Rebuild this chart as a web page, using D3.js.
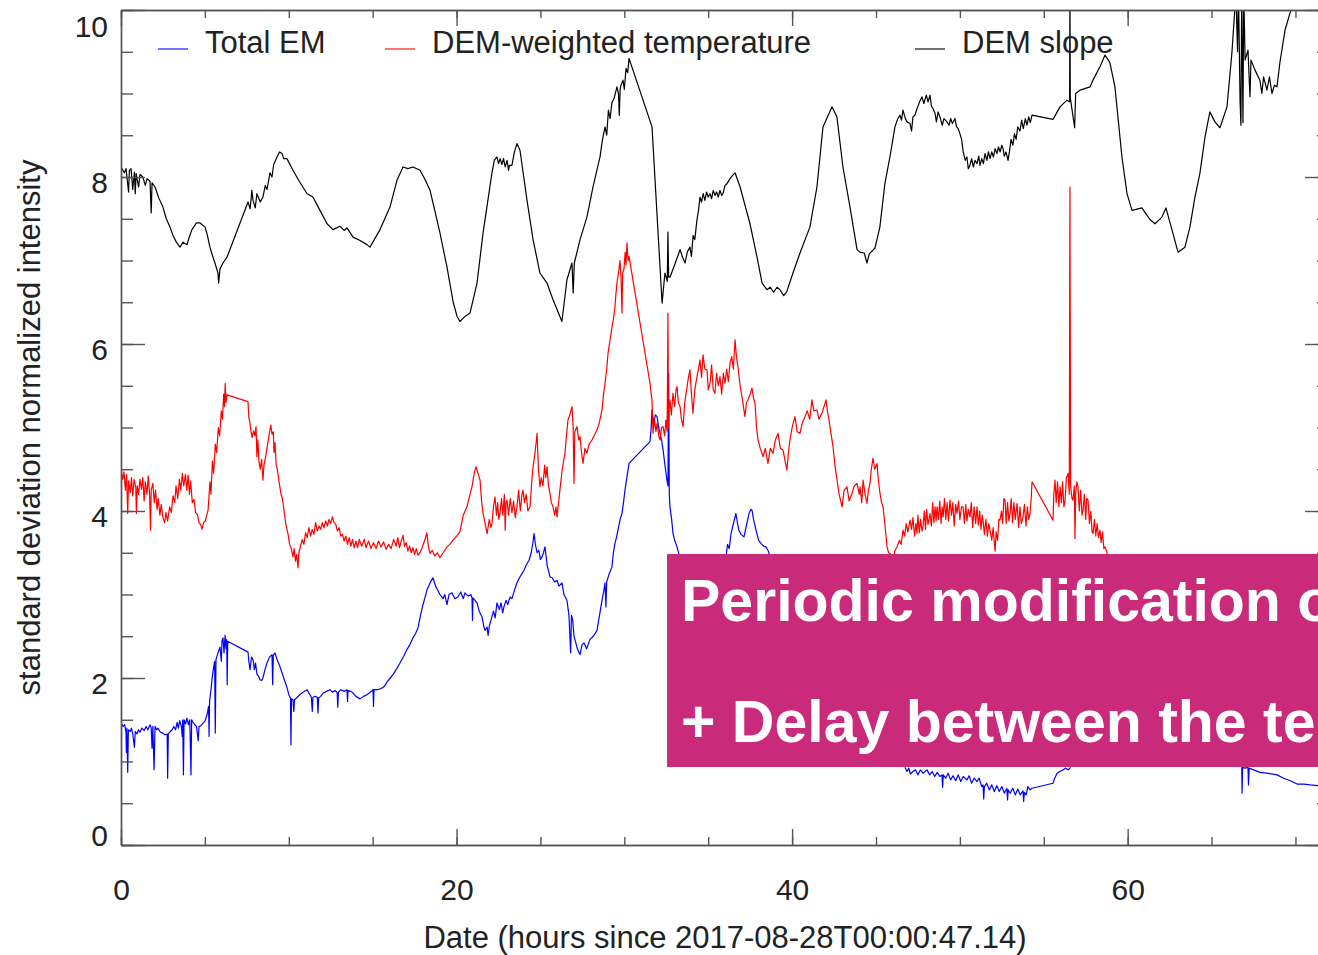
<!DOCTYPE html>
<html>
<head>
<meta charset="utf-8">
<script src="https://cdn.jsdelivr.net/npm/d3@7"></script>
<style>
body { margin: 0; background: #fff; }
svg { display: block; font-family: "Liberation Sans", Arial, Helvetica, sans-serif; }
</style>
</head>
<body>
<svg width="1318" height="955"></svg>
<script>
// [hours since 2017-08-28T00:00:47.14, normalized intensity], null = data gap

const totalEM = [
[0,1.46],[0.12,1.42],[0.22,1.44],[0.3,1.35],[0.32,1.11],[0.35,1.4],[0.4,0.87],[0.44,1.38],[0.55,1.36],[0.62,1.4],[0.7,1.33],[0.8,1.17],[0.85,1.36],[0.95,1.33],[1.05,1.38],[1.13,1.35],[1.25,1.4],[1.38,1.37],[1.5,1.42],[1.6,1.38],[1.73,1.44],[1.8,1.4],[1.85,1.16],[1.9,1.42],[1.97,0.9],[2.03,1.42],[2.12,1.38],[2.2,1.4],[2.35,1.35],[2.5,1.34],[2.62,1.32],[2.75,1.33],[2.78,0.8],[2.82,1.33],[2.95,1.36],[3.05,1.38],[3.15,1.42],[3.25,1.38],[3.35,1.47],[3.42,1.4],[3.5,1.49],[3.6,1.42],[3.65,1.3],[3.68,1.5],[3.72,0.84],[3.76,1.5],[3.85,1.45],[3.93,1.52],[4.02,1.44],[4.1,1.5],[4.17,0.84],[4.21,1.5],[4.29,1.47],[4.4,1.44],[4.5,1.42],[4.6,1.25],[4.65,1.42],[4.77,1.43],[4.89,1.46],[5.0,1.48],[5.13,1.56],[5.22,1.66],[5.25,1.3],[5.28,1.72],[5.36,1.85],[5.42,1.98],[5.5,2.1],[5.58,2.2],[5.62,1.34],[5.66,2.22],[5.78,2.3],[5.9,2.37],[5.98,2.2],[6.02,2.45],[6.08,2.48],[6.14,2.3],[6.2,2.51],[6.26,2.35],[6.3,2.46],[6.33,1.92],[6.36,2.44],
[7.57,2.31],[7.62,2.2],[7.69,2.1],[7.78,2.25],[7.87,2.22],[7.95,2.1],[8.02,2.18],[8.1,2.05],[8.2,2.02],[8.28,1.98],[8.38,1.97],[8.46,2.0],[8.58,2.1],[8.7,2.18],[8.85,2.25],[9.0,2.28],[9.04,1.92],[9.08,2.27],[9.18,2.3],[9.3,2.22],[9.45,2.15],[9.6,2.06],[9.75,1.97],[9.89,1.89],[10.0,1.8],[10.1,1.76],[10.13,1.2],[10.16,1.75],[10.25,1.74],[10.3,1.6],[10.34,1.74],[10.5,1.77],[10.65,1.8],[10.85,1.83],[11.09,1.86],[11.2,1.82],[11.35,1.77],[11.4,1.6],[11.44,1.77],[11.58,1.78],[11.7,1.77],[11.74,1.58],[11.78,1.76],[11.9,1.78],[12.05,1.82],[12.25,1.84],[12.46,1.86],[12.6,1.83],[12.75,1.85],[12.88,1.83],[12.92,1.65],[12.96,1.83],[13.1,1.86],[13.3,1.84],[13.47,1.86],[13.5,1.72],[13.53,1.85],[13.7,1.84],[13.83,1.82],[14.0,1.78],[14.25,1.75],[14.45,1.78],[14.66,1.8],[14.85,1.83],[15.02,1.86],[15.05,1.66],[15.08,1.86],[15.3,1.86],[15.56,1.88],[15.7,1.9],[15.85,1.95],[16.05,2.0],[16.21,2.04],[16.4,2.1],[16.63,2.18],[16.85,2.26],[17.04,2.34],[17.22,2.4],[17.4,2.48],[17.55,2.53],[17.7,2.6],[17.85,2.75],[18.0,2.88],[18.1,2.95],[18.23,3.05],[18.4,3.13],[18.59,3.2],[18.75,3.1],[18.88,3.05],[19.01,3.0],[19.2,2.95],[19.3,3.0],[19.43,2.88],[19.55,3.0],[19.73,3.02],[19.9,2.95],[20.08,2.97],[20.25,3.03],[20.4,2.95],[20.5,3.02],[20.7,2.98],[20.85,3.0],[20.92,2.96],[20.95,2.69],[20.98,2.96],[21.1,2.93],[21.22,2.9],[21.35,2.8],[21.52,2.73],[21.62,2.62],[21.7,2.57],[21.82,2.61],[21.88,2.51],[21.95,2.62],[22.05,2.69],[22.2,2.8],[22.3,2.72],[22.41,2.9],[22.55,2.82],[22.65,2.9],[22.75,2.78],[22.82,2.85],[22.95,2.93],[23.05,2.88],[23.19,2.97],[23.3,2.95],[23.45,3.05],[23.6,3.14],[23.75,3.2],[23.9,3.25],[24.02,3.29],[24.15,3.35],[24.32,3.41],[24.45,3.5],[24.55,3.62],[24.62,3.73],[24.7,3.6],[24.8,3.5],[24.9,3.53],[25.0,3.42],[25.09,3.45],[25.18,3.5],[25.27,3.57],[25.4,3.35],[25.57,3.21],[25.7,3.2],[25.85,3.15],[25.99,3.17],[26.1,3.1],[26.28,3.14],[26.4,3.0],[26.58,2.93],[26.7,2.75],[26.8,2.3],[26.85,2.75],[26.92,2.7],[27.0,2.5],[27.06,2.46],[27.2,2.35],[27.36,2.28],[27.48,2.4],[27.6,2.42],[27.75,2.35],[27.95,2.46],[28.15,2.5],[28.37,2.57],[28.52,2.75],[28.67,2.93],[28.78,3.05],[28.85,3.14],[28.9,2.85],[28.95,3.15],[29.1,3.25],[29.26,3.33],[29.35,3.5],[29.44,3.61],[29.55,3.7],[29.62,3.77],[29.75,3.9],[29.86,3.97],[29.95,4.1],[30.04,4.25],[30.15,4.4],[30.28,4.57],
[31.53,4.83],[31.6,5.0],[31.65,5.21],[31.75,5.05],[31.85,5.15],[31.95,5.13],[32.05,5.0],[32.13,4.93],[32.22,4.85],[32.31,4.73],[32.42,4.55],[32.54,4.37],[32.6,4.3],[32.64,5.65],[32.68,4.2],[32.72,4.05],[32.82,3.9],[32.9,3.73],[33.0,3.65],[33.14,3.57],[33.3,3.45],null,
[36.06,3.45],[36.15,3.6],[36.25,3.55],[36.36,3.73],[36.5,3.85],[36.65,3.97],[36.75,3.85],[36.83,3.77],[36.95,3.72],[37.13,3.69],[37.25,3.8],[37.43,3.97],[37.55,4.02],[37.61,4.01],[37.7,3.9],[37.85,3.77],[38.0,3.65],[38.15,3.61],[38.3,3.58],[38.44,3.57],[38.58,3.52],[38.7,3.45],null,
[46.72,0.93],[46.85,0.88],[46.95,0.92],[47.05,0.85],[47.2,0.88],[47.35,0.9],[47.5,0.84],[47.65,0.9],[47.8,0.86],[48.04,0.9],[48.2,0.84],[48.35,0.88],[48.5,0.82],[48.65,0.87],[48.8,0.82],[48.93,0.84],[48.97,0.69],[49.01,0.84],[49.15,0.8],[49.3,0.86],[49.45,0.78],[49.59,0.83],[49.75,0.77],[49.9,0.84],[50.05,0.76],[50.2,0.82],[50.42,0.78],[50.55,0.83],[50.7,0.74],[50.85,0.8],[51.02,0.76],[51.15,0.8],[51.3,0.7],[51.38,0.72],[51.42,0.55],[51.46,0.7],[51.6,0.74],[51.75,0.66],[51.9,0.72],[52.05,0.64],[52.2,0.71],[52.35,0.64],[52.5,0.7],[52.65,0.62],[52.8,0.68],[52.84,0.54],[52.88,0.66],[53.0,0.62],[53.15,0.68],[53.3,0.6],[53.45,0.67],[53.6,0.6],[53.76,0.65],[53.8,0.52],[53.84,0.63],[53.95,0.6],[54.05,0.7],[54.18,0.66],[54.3,0.68],
[55.55,0.74],[55.65,0.8],[55.79,0.86],[55.95,0.88],[56.15,0.9],[56.3,0.92],[56.45,0.9],[56.6,0.93],null,
[66.8,0.93],[66.82,0.62],[66.85,0.93],[67.0,0.92],[67.17,0.93],[67.2,0.72],[67.24,0.92],[67.5,0.9],[67.89,0.87],[68.3,0.86],[68.9,0.84],[69.3,0.8],[69.7,0.77],[70.1,0.73],[70.5,0.73],[70.9,0.72],[71.4,0.71]
];

const demTemp = [
[0,4.49],[0.1,4.38],[0.18,4.47],[0.26,4.25],[0.33,4.44],[0.4,3.97],[0.45,4.36],[0.55,4.22],[0.62,4.4],[0.7,4.18],[0.78,4.38],[0.88,4.28],[0.92,3.97],[0.97,4.3],[1.05,4.2],[1.13,4.38],[1.22,4.26],[1.3,4.4],[1.38,4.12],[1.45,4.35],[1.55,4.2],[1.62,4.42],[1.7,4.22],[1.76,3.77],[1.8,4.25],[1.9,4.33],[1.98,4.1],[2.06,4.25],[2.15,4.02],[2.22,4.15],[2.32,3.95],[2.4,4.08],[2.5,3.92],[2.6,3.86],[2.68,3.98],[2.78,3.88],[2.9,4.05],[3.0,3.98],[3.1,4.18],[3.2,4.1],[3.28,4.3],[3.38,4.15],[3.48,4.38],[3.56,4.25],[3.66,4.45],[3.74,4.3],[3.84,4.44],[3.92,4.25],[4.0,4.43],[4.08,4.2],[4.15,4.36],[4.25,4.1],[4.35,4.14],[4.45,3.98],[4.55,3.96],[4.65,3.86],[4.75,3.84],[4.83,3.78],[4.92,3.86],[5.02,3.88],[5.19,4.01],[5.3,4.35],[5.36,4.2],[5.45,4.6],[5.52,4.45],[5.62,4.8],[5.7,4.7],[5.8,5.0],[5.88,4.9],[5.98,5.2],[6.05,5.1],[6.12,5.4],[6.17,5.25],[6.21,5.53],[6.26,5.3],[6.32,5.39],
[7.57,5.31],[7.62,5.12],[7.69,5.05],[7.75,4.95],[7.82,4.88],[7.9,4.96],[7.98,4.9],[8.05,5.01],[8.1,4.65],[8.16,4.85],[8.22,4.6],[8.3,4.5],[8.38,4.62],[8.46,4.37],[8.52,4.55],[8.62,4.65],[8.7,4.75],[8.78,4.85],[8.86,4.95],[8.93,5.03],[9.0,4.92],[9.08,4.95],[9.12,4.7],[9.18,4.82],[9.25,4.55],[9.32,4.5],[9.42,4.35],[9.54,4.2],[9.62,4.15],[9.72,4.0],[9.82,3.85],[9.95,3.73],[10.05,3.6],[10.15,3.55],[10.25,3.45],[10.32,3.55],[10.4,3.4],[10.47,3.48],[10.55,3.32],[10.6,3.5],[10.7,3.58],[10.8,3.66],[10.9,3.6],[11.0,3.74],[11.1,3.68],[11.2,3.8],[11.3,3.7],[11.4,3.78],[11.5,3.72],[11.6,3.86],[11.7,3.76],[11.8,3.82],[11.9,3.78],[12.0,3.86],[12.1,3.8],[12.2,3.88],[12.3,3.82],[12.4,3.9],[12.5,3.85],[12.6,3.93],[12.7,3.86],[12.8,3.84],[12.9,3.76],[13.0,3.8],[13.1,3.7],[13.2,3.72],[13.3,3.64],[13.4,3.7],[13.5,3.6],[13.6,3.68],[13.7,3.58],[13.8,3.66],[13.9,3.56],[14.0,3.64],[14.1,3.56],[14.2,3.66],[14.35,3.58],[14.5,3.66],[14.6,3.56],[14.75,3.64],[14.9,3.55],[15.05,3.62],[15.2,3.55],[15.35,3.64],[15.5,3.57],[15.65,3.63],[15.8,3.54],[15.95,3.6],[16.1,3.55],[16.25,3.66],[16.4,3.58],[16.5,3.68],[16.6,3.56],[16.7,3.64],[16.81,3.71],[16.9,3.58],[17.0,3.62],[17.1,3.52],[17.2,3.58],[17.3,3.5],[17.4,3.56],[17.5,3.48],[17.6,3.55],[17.7,3.47],[17.82,3.5],[17.95,3.56],[18.05,3.62],[18.15,3.68],[18.23,3.74],[18.32,3.58],[18.42,3.49],[18.55,3.53],[18.7,3.46],[18.85,3.5],[19.01,3.44],[19.2,3.5],[19.43,3.57],[19.6,3.6],[19.79,3.65],[20.0,3.7],[20.2,3.75],[20.4,3.95],[20.62,4.05],[20.8,4.2],[20.92,4.29],[21.05,4.45],[21.16,4.53],[21.28,4.45],[21.4,4.37],[21.5,4.1],[21.58,3.97],[21.7,3.85],[21.82,3.73],[21.95,3.9],[22.05,3.8],[22.11,3.85],[22.2,4.05],[22.29,4.17],[22.38,3.95],[22.45,4.1],[22.52,3.9],[22.59,3.97],[22.68,4.15],[22.76,3.95],[22.85,4.2],[22.9,3.77],[22.95,4.1],[23.01,4.13],[23.1,3.95],[23.2,4.15],[23.3,3.98],[23.4,4.12],[23.5,3.92],[23.6,4.05],[23.7,4.25],[23.8,4.0],[23.9,4.2],[23.96,4.25],[24.05,4.1],[24.15,4.2],[24.25,4.0],[24.38,4.05],[24.48,4.35],[24.56,4.53],[24.68,4.7],[24.8,4.93],[24.88,4.5],[24.97,4.29],[25.05,4.4],[25.15,4.3],[25.25,4.55],[25.32,4.4],[25.39,4.53],[25.48,4.3],[25.57,4.21],[25.65,4.1],[25.75,4.05],[25.85,3.95],[25.93,4.05],[25.99,3.93],[26.08,4.1],[26.16,4.25],[26.3,4.5],[26.46,4.69],[26.55,4.9],[26.64,5.09],[26.75,5.15],[26.88,5.25],[26.95,5.0],[27.0,4.33],[27.05,4.95],[27.18,5.01],[27.28,4.85],[27.36,4.89],[27.45,4.7],[27.54,4.57],[27.65,4.75],[27.77,4.69],[27.9,4.8],[28.07,4.85],[28.2,4.9],[28.37,4.97],[28.5,5.05],[28.67,5.21],[28.76,5.4],[28.85,5.53],[28.95,5.7],[29.03,5.89],[29.15,6.05],[29.26,6.2],[29.35,6.3],[29.44,6.44],[29.5,6.6],[29.56,6.73],[29.65,6.85],[29.74,7.0],[29.8,6.8],[29.86,6.37],[29.9,6.85],[29.98,6.9],[30.05,7.1],[30.1,6.95],[30.16,7.21],[30.22,7.0],[30.28,7.05],
[31.53,5.53],[31.6,5.4],[31.65,5.33],[31.71,4.93],[31.8,5.1],[31.88,4.95],[31.95,5.05],[32.05,4.9],[32.13,4.85],[32.22,5.0],[32.31,5.01],[32.4,4.9],[32.48,5.09],[32.55,4.95],[32.6,6.37],[32.63,5.0],[32.66,5.2],[32.72,5.33],[32.8,5.15],[32.9,5.41],[33.0,5.25],[33.08,5.45],[33.14,5.49],[33.22,5.3],[33.32,5.25],[33.4,5.1],[33.5,5.01],[33.6,5.3],[33.74,5.49],[33.82,5.6],[33.91,5.69],[34.0,5.4],[34.09,5.17],[34.2,5.45],[34.33,5.61],[34.42,5.7],[34.51,5.81],[34.6,5.6],[34.69,5.87],[34.8,5.7],[34.93,5.69],[35.0,5.45],[35.11,5.53],[35.2,5.75],[35.3,5.45],[35.4,5.41],[35.5,5.65],[35.6,5.5],[35.7,5.61],[35.8,5.4],[35.9,5.65],[36.0,5.53],[36.1,5.7],[36.2,5.55],[36.3,5.77],[36.4,5.85],[36.5,5.7],[36.6,6.05],[36.68,5.85],[36.77,5.73],[36.9,5.5],[37.01,5.37],[37.1,5.25],[37.19,5.13],[37.28,5.3],[37.37,5.33],[37.5,5.4],[37.61,5.47],[37.7,5.35],[37.79,5.29],[37.88,5.0],[37.97,4.85],[38.1,4.75],[38.27,4.65],[38.4,4.75],[38.56,4.57],[38.7,4.75],[38.86,4.69],[39.0,4.85],[39.16,4.93],[39.3,4.75],[39.46,4.73],[39.58,4.6],[39.69,4.49],[39.78,4.7],[39.87,4.85],[40.0,5.0],[40.17,5.13],[40.3,4.95],[40.47,4.93],[40.6,5.05],[40.77,5.13],[40.9,5.2],[41.05,5.1],[41.18,5.33],[41.3,5.2],[41.48,5.21],[41.6,5.1],[41.78,5.17],[41.9,5.25],[42.02,5.33],[42.1,5.2],[42.2,5.09],[42.3,4.95],[42.44,4.77],[42.55,4.55],[42.68,4.37],[42.8,4.2],[42.98,4.05],[43.1,4.25],[43.27,4.29],[43.4,4.12],[43.57,4.21],[43.7,4.3],[43.87,4.33],[44.0,4.2],[44.05,4.29],[44.15,4.1],[44.23,4.37],[44.35,4.2],[44.46,4.09],[44.55,4.25],[44.64,4.33],[44.72,4.5],[44.82,4.63],[44.92,4.5],[45.06,4.57],[45.15,4.35],[45.24,4.21],[45.33,4.1],[45.42,4.05],[45.55,3.8],[45.66,3.57],[45.75,3.5],[45.84,3.49],[45.93,3.45],[46.02,3.42],[46.12,3.52],[46.25,3.57],[46.4,3.65],[46.5,3.6],[46.61,3.77],
[46.7,3.7],[46.8,3.85],[46.9,3.75],[47.03,3.89],[47.12,3.78],[47.2,3.92],[47.3,3.7],[47.38,3.85],[47.44,3.73],[47.5,3.95],[47.58,3.74],[47.66,3.9],[47.74,3.76],[47.8,3.81],[47.88,4.0],[47.95,3.78],[48.02,4.02],[48.1,3.84],[48.22,3.97],[48.3,3.82],[48.38,4.1],[48.45,3.86],[48.52,4.05],[48.58,3.88],[48.64,4.05],[48.72,3.9],[48.8,4.12],[48.88,3.85],[48.94,4.05],[49.0,3.93],[49.08,4.15],[49.16,3.9],[49.24,4.1],[49.32,3.88],[49.41,4.13],[49.5,3.95],[49.58,4.1],[49.66,3.82],[49.75,4.08],[49.83,3.97],[49.92,4.12],[50.0,3.9],[50.1,4.05],[50.19,4.05],[50.27,3.85],[50.35,4.08],[50.42,3.88],[50.5,4.02],[50.6,3.93],[50.68,4.1],[50.76,3.8],[50.85,4.05],[50.94,3.85],[51.02,4.05],[51.1,3.83],[51.18,4.0],[51.26,3.78],[51.33,3.95],[51.38,3.89],[51.46,3.72],[51.55,3.9],[51.64,3.7],[51.72,3.85],[51.8,3.77],[51.9,3.65],[51.98,3.8],[52.05,3.62],[52.1,3.52],[52.16,3.75],[52.25,3.65],[52.32,3.9],[52.39,3.89],[52.48,4.0],[52.55,3.85],[52.62,4.15],[52.69,4.13],[52.76,3.85],[52.84,4.1],[52.92,3.88],[52.99,3.97],[53.06,4.15],[53.14,3.86],[53.22,4.1],[53.3,3.9],[53.41,4.09],[53.5,3.8],[53.58,4.05],[53.66,3.85],[53.76,3.93],[53.85,4.08],[53.94,3.82],[54.02,4.05],[54.1,3.9],[54.18,3.97],[54.25,4.15],[54.3,4.35],
[55.55,3.89],[55.6,4.2],[55.67,4.37],[55.74,4.1],[55.82,4.35],[55.9,4.05],[55.97,4.29],[56.05,4.1],[56.12,4.35],[56.2,4.05],[56.27,4.13],[56.35,4.4],[56.45,4.45],[56.52,4.2],[56.56,7.88],[56.6,4.3],[56.68,4.15],[56.74,4.13],[56.82,4.3],[56.86,3.67],[56.9,4.2],[56.97,4.35],[57.04,4.29],[57.12,4.0],[57.2,4.25],[57.28,3.95],[57.34,4.01],[57.42,4.2],[57.5,3.9],[57.56,4.15],[57.64,4.13],[57.72,3.85],[57.8,4.0],[57.88,3.75],[57.94,3.73],[58.02,3.9],[58.1,3.7],[58.18,3.85],[58.26,3.68],[58.35,3.77],[58.42,3.62],[58.5,3.75],[58.58,3.55],[58.65,3.57],[58.74,3.52],[58.83,3.45]
];

const demSlope = [
[0,8.12],[0.2,8.05],[0.3,8.1],[0.45,7.82],[0.5,8.08],[0.6,8.1],[0.7,7.85],[0.8,8.06],[0.85,7.8],[0.9,8.04],[1.05,7.88],[1.13,8.03],[1.3,8.0],[1.45,7.9],[1.55,7.98],[1.73,7.95],[1.8,7.57],[1.85,7.93],[2.03,7.88],[2.25,7.75],[2.5,7.64],[2.7,7.5],[2.92,7.4],[3.1,7.3],[3.3,7.22],[3.52,7.16],[3.7,7.22],[3.93,7.19],[4.1,7.3],[4.23,7.37],[4.5,7.45],[4.71,7.45],[5.01,7.4],[5.15,7.3],[5.3,7.16],[5.45,7.06],[5.6,6.97],[5.78,6.85],[5.82,6.73],[5.9,6.9],[6.08,6.97],[6.32,7.04],
[7.57,7.7],[7.7,7.62],[7.8,7.84],[7.87,7.72],[8.0,7.63],[8.1,7.8],[8.3,7.7],[8.46,7.76],[8.6,7.9],[8.7,7.85],[8.88,8.05],[9.0,8.0],[9.1,8.15],[9.3,8.24],[9.45,8.3],[9.6,8.28],[9.7,8.22],[9.89,8.22],[10.25,8.08],[10.65,7.94],[11.09,7.8],[11.44,7.76],[11.86,7.6],[12.28,7.44],[12.64,7.37],[13.05,7.41],[13.3,7.36],[13.47,7.39],[13.83,7.28],[14.25,7.24],[14.66,7.19],[14.84,7.16],[15.44,7.37],[16.03,7.64],[16.45,7.96],[16.81,8.12],[17.1,8.1],[17.4,8.12],[17.82,8.08],[18.1,7.98],[18.42,7.84],[18.7,7.6],[19.01,7.33],[19.43,6.92],[19.8,6.5],[20.03,6.33],[20.2,6.27],[20.5,6.33],[20.8,6.37],[21.22,6.73],[21.58,7.33],[22.11,8.05],[22.25,8.2],[22.41,8.24],[22.5,8.16],[22.6,8.22],[22.7,8.15],[22.8,8.22],[22.9,8.12],[23.01,8.2],[23.1,8.08],[23.15,8.14],[23.3,8.14],[23.45,8.3],[23.6,8.4],[23.78,8.32],[24.2,7.72],[24.56,7.25],[24.97,6.85],[25.39,6.73],[25.75,6.53],[26.16,6.33],[26.28,6.27],[26.58,6.77],[26.88,6.97],[26.95,6.61],[27.02,6.97],[27.36,7.25],[27.77,7.52],[28.13,7.88],[28.55,8.24],[28.7,8.45],[28.85,8.6],[28.95,8.5],[29.05,8.8],[29.15,8.7],[29.26,8.89],[29.4,8.95],[29.56,9.08],[29.65,9.0],[29.7,8.74],[29.75,9.05],[29.8,9.1],[29.92,9.16],[30.0,9.05],[30.1,9.3],[30.2,9.25],[30.28,9.42],
[31.65,8.6],[32.25,6.49],[32.42,6.85],[32.56,6.75],[32.6,7.34],[32.64,6.8],[32.72,6.8],[33.0,6.95],[33.32,7.13],[33.45,7.05],[33.62,6.97],[33.75,7.1],[33.91,7.16],[34.0,7.05],[34.1,7.3],[34.2,7.25],[34.33,7.49],[34.42,7.6],[34.51,7.76],[34.6,7.7],[34.7,7.8],[34.8,7.72],[34.9,7.82],[35.0,7.76],[35.11,7.8],[35.2,7.74],[35.3,7.84],[35.4,7.78],[35.5,7.82],[35.6,7.76],[35.7,7.84],[35.8,7.78],[35.88,7.8],[36.0,7.9],[36.12,7.92],[36.3,7.98],[36.45,8.02],[36.6,8.05],[36.9,7.88],[37.49,7.44],[37.91,7.04],[38.21,6.73],[38.5,6.65],[38.7,6.68],[38.9,6.62],[39.1,6.68],[39.28,6.65],[39.5,6.58],[39.69,6.63],[40.05,6.85],[40.47,7.09],[41.06,7.4],[41.48,7.88],[41.84,8.6],[42.38,8.84],[42.67,8.72],[43.03,8.12],[43.45,7.64],[43.87,7.13],[44.04,7.1],[44.3,7.09],[44.46,6.97],[44.6,7.08],[44.94,7.15],[45.23,7.4],[45.53,7.92],[45.83,8.24],[46.13,8.6],
[46.3,8.7],[46.43,8.74],[46.52,8.68],[46.61,8.8],[46.75,8.7],[46.85,8.66],[47.03,8.64],[47.12,8.55],[47.2,8.72],[47.32,8.74],[47.45,8.82],[47.6,8.9],[47.74,8.96],[47.85,8.88],[48.0,8.98],[48.1,8.9],[48.22,8.98],[48.3,8.85],[48.4,8.82],[48.52,8.76],[48.6,8.66],[48.7,8.78],[48.81,8.72],[48.95,8.62],[49.05,8.7],[49.23,8.66],[49.35,8.62],[49.45,8.7],[49.55,8.64],[49.71,8.7],[49.8,8.6],[49.9,8.58],[50.0,8.52],[50.1,8.45],[50.2,8.3],[50.32,8.2],[50.42,8.24],[50.5,8.1],[50.6,8.14],[50.7,8.22],[50.8,8.12],[50.9,8.2],[51.02,8.16],[51.12,8.25],[51.2,8.14],[51.3,8.22],[51.4,8.16],[51.5,8.28],[51.61,8.2],[51.7,8.3],[51.8,8.22],[51.9,8.3],[52.0,8.24],[52.1,8.34],[52.21,8.28],[52.3,8.36],[52.4,8.3],[52.5,8.38],[52.57,8.34],[52.65,8.25],[52.75,8.3],[52.87,8.2],[52.95,8.3],[53.05,8.45],[53.16,8.38],[53.25,8.52],[53.35,8.45],[53.45,8.6],[53.58,8.55],[53.68,8.68],[53.78,8.58],[53.9,8.7],[54.0,8.62],[54.1,8.72],[54.2,8.65],[54.3,8.74],
[55.55,8.69],[55.97,8.84],[56.38,8.92],[56.54,8.9],[56.56,10.3],[56.58,8.95],[56.84,8.59],[56.9,9.0],[57.16,9.04],[57.76,9.08],[57.93,9.16],[58.35,9.32],[58.65,9.46],[58.94,9.37],[59.24,9.08],[59.42,8.72],[59.66,8.24],[59.96,7.8],[60.26,7.6],[60.85,7.63],[61.33,7.49],[61.63,7.44],[62.04,7.52],[62.28,7.63],[62.64,7.37],[63.0,7.1],[63.41,7.16],[63.71,7.4],[64.01,7.76],[64.31,8.05],[64.61,8.48],[64.9,8.78],[65.2,8.66],[65.5,8.59],[65.92,8.84],[66.21,9.48],[66.45,10.2],[66.55,9.5],[66.6,10.3],[66.7,8.9],[66.75,8.62],[66.8,10.3],[66.87,8.65],[66.92,10.2],[67.0,9.4],[67.17,9.52],[67.29,8.96],[67.35,9.4],[67.59,9.28],[67.88,9.16],[68.0,9.0],[68.1,9.2],[68.3,9.04],[68.45,9.2],[68.6,9.0],[68.75,9.1],[68.9,9.08],[69.08,9.38],[69.38,9.76],[69.67,9.96],[70.27,10.3],[71.4,10.5]
];

const xMajor = [0, 20, 40, 60];
const xMinor = d3.range(0, 73, 5);
const yMajor = [0, 2, 4, 6, 8, 10];
const yMinor = d3.range(0, 10.01, 0.5);

const series = [
    {name: 'Total EM', data: totalEM, color: '#0000ff'},
    {name: 'DEM-weighted temperature', data: demTemp, color: '#ff0000'},
    {name: 'DEM slope', data: demSlope, color: '#000000'}
];

const noteLines = ['Periodic modification of', '+ Delay between the temperature'];

const svg = d3.select("svg");

const x = d3.scaleLinear().domain([0, 72]).range([121, 1329]);
const y = d3.scaleLinear().domain([0, 10]).range([845, 10]);

svg.append('clipPath').attr('id', 'plot')
    .append('rect')
    .attr('x', x(0)).attr('y', y(10))
    .attr('width', x(72) - x(0)).attr('height', y(0) - y(10));

const line = d3.line()
    .defined(d => d !== null)
    .x(d => x(d[0]))
    .y(d => y(d[1]));

svg.append('g').attr('clip-path', 'url(#plot)')
    .selectAll('path')
    .data(series)
    .enter().append('path')
    .attr('fill', 'none')
    .attr('stroke', d => d.color)
    .attr('stroke-width', 1.2)
    .attr('stroke-linejoin', 'round')
    .attr('d', d => line(d.data));

// axes on all four sides, ticks pointing inward
function styleAxis(g){
    g.attr('font-family', null).attr('font-size', null);
    g.selectAll('path, line').attr('stroke', '#555').attr('stroke-width', 1.4);
    g.selectAll('text').attr('fill', '#222').attr('font-size', 30);
}

svg.append('g').attr('transform', `translate(0,${y(0)})`)
    .call(d3.axisBottom(x).tickValues(xMinor).tickSize(-8).tickSizeOuter(0).tickFormat(''))
    .call(styleAxis);
svg.append('g').attr('transform', `translate(0,${y(0)})`)
    .call(d3.axisBottom(x).tickValues(xMajor).tickSize(-16).tickSizeOuter(0).tickPadding(34))
    .call(styleAxis);

svg.append('g').attr('transform', `translate(0,${y(10)})`)
    .call(d3.axisTop(x).tickValues(xMinor).tickSize(-8).tickSizeOuter(0).tickFormat(''))
    .call(styleAxis);
svg.append('g').attr('transform', `translate(0,${y(10)})`)
    .call(d3.axisTop(x).tickValues(xMajor).tickSize(-16).tickSizeOuter(0).tickFormat(''))
    .call(styleAxis);

svg.append('g').attr('transform', `translate(${x(0)},0)`)
    .call(d3.axisLeft(y).tickValues(yMinor).tickSize(-12).tickSizeOuter(0).tickFormat(''))
    .call(styleAxis);
svg.append('g').attr('transform', `translate(${x(0)},0)`)
    .call(d3.axisLeft(y).tickValues(yMajor).tickSize(-24).tickSizeOuter(0).tickPadding(13))
    .call(styleAxis)
    .selectAll('text')
    .attr('dy', d => d === 10 ? '0.87em' : d === 0 ? '0em' : '0.53em');

svg.append('g').attr('transform', `translate(${x(72)},0)`)
    .call(d3.axisRight(y).tickValues(yMinor).tickSize(-12).tickSizeOuter(0).tickFormat(''))
    .call(styleAxis);
svg.append('g').attr('transform', `translate(${x(72)},0)`)
    .call(d3.axisRight(y).tickValues(yMajor).tickSize(-24).tickSizeOuter(0).tickFormat(''))
    .call(styleAxis);

svg.append('text')
    .attr('x', (x(0) + x(72)) / 2)
    .attr('y', 948)
    .attr('text-anchor', 'middle')
    .attr('font-size', 31)
    .attr('fill', '#222')
    .text('Date (hours since 2017-08-28T00:00:47.14)');

svg.append('text')
    .attr('transform', `translate(40,${(y(0) + y(10)) / 2}) rotate(-90)`)
    .attr('text-anchor', 'middle')
    .attr('font-size', 31)
    .attr('fill', '#222')
    .text('standard deviation normalized intensity');

// legend
const legendX = [158, 385, 915];
const legend = svg.selectAll('.legend')
    .data(series)
    .enter().append('g')
    .attr('class', 'legend')
    .attr('transform', (d, i) => `translate(${legendX[i]},49)`);

legend.append('line')
    .attr('x1', 0).attr('x2', 30)
    .attr('stroke', d => d.color)
    .attr('stroke-width', 1.1);

legend.append('text')
    .attr('x', 47).attr('y', 4)
    .attr('font-size', 31)
    .attr('fill', '#222')
    .text(d => d.name);

// annotation banner, runs past the right edge like the original slide
svg.append('rect')
    .attr('x', 667).attr('y', 554)
    .attr('width', 700).attr('height', 213)
    .attr('fill', '#ca2a7a');

svg.selectAll('.note')
    .data(noteLines)
    .enter().append('text')
    .attr('class', 'note')
    .attr('x', 681)
    .attr('y', (d, i) => 621 + i * 121)
    .attr('font-size', 59)
    .attr('font-weight', 'bold')
    .attr('fill', '#fff')
    .text(d => d);
</script>
</body>
</html>
